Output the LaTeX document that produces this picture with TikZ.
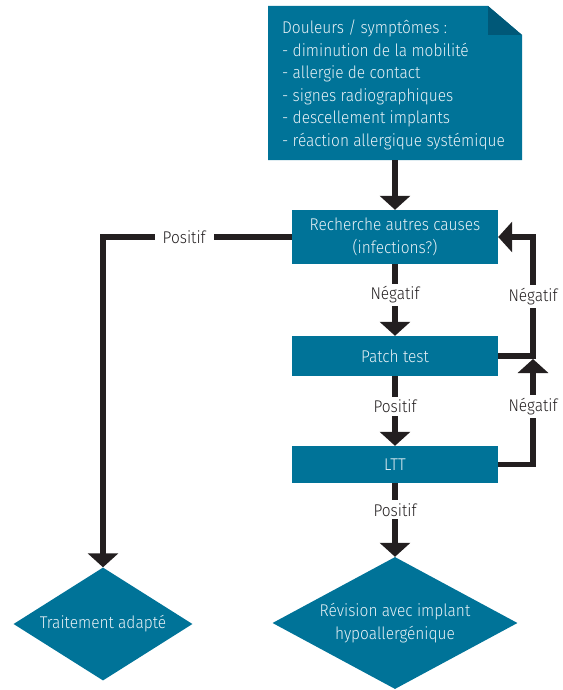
\documentclass[tikz,border=0pt]{standalone}
\usepackage{fontspec}
\setmainfont[FakeStretch=0.91]{Fira Sans Light}
\usetikzlibrary{arrows.meta, shapes.geometric}
\definecolor{boxblue}{RGB}{0,115,152}
\definecolor{folddark}{RGB}{0,88,120}
\definecolor{linegray}{RGB}{35,31,32}
\definecolor{boxtext}{RGB}{232,241,246}

\begin{document}
\begin{tikzpicture}[x=1pt, y=-1pt,
    font=\fontsize{17}{22.5}\selectfont,
    box/.style={fill=boxblue, text=boxtext, minimum width=206pt, align=center, inner sep=0pt},
    decision/.style={diamond, fill=boxblue, text=boxtext, align=center, inner sep=0pt},
    flow/.style={line width=5.5pt, draw=linegray, -{Triangle[width=30pt,length=14pt]}},
    lbl/.style={fill=white, text=linegray, inner xsep=8pt, inner ysep=3pt}]

    \useasboundingbox (0,0) rectangle (562,690);

    % symptom sheet with folded corner
    \fill[boxblue] (268,6) -- (488,6) -- (522,35) -- (522,160) -- (268,160) -- cycle;
    \fill[folddark] (488,6) -- (488,35) -- (522,35) -- cycle;
    \node[anchor=north west, text=boxtext, align=left, inner sep=0pt] (sympt) at (282,20)
        {Douleurs / symptômes :\\- diminution de la mobilité\\- allergie de contact\\- signes radiographiques\\- descellement implants\\- réaction allergique systémique};
    \coordinate (symptBottom) at (395,160);

    \node[box, minimum height=54pt] (causes) at (395,237) {Recherche autres causes\\(infections?)};
    \node[box, minimum height=40pt] (patch) at (395,356) {Patch test};
    \node[box, minimum height=37pt] (ltt) at (395,464.5) {LTT};
    \node[decision, minimum width=179pt, minimum height=113pt, aspect=1.58] (traitement) at (103,624) {Traitement adapté};
    \node[decision, minimum width=245pt, minimum height=132pt, aspect=1.86] (revision) at (395,623) {Révision avec implant\\hypoallergénique};

    \coordinate (leftCorner) at (103,237);
    \coordinate (loopTop) at (533,237);
    \coordinate (loopMid) at (533,356);
    \coordinate (loopTip) at (533,359);
    \coordinate (loopBot) at (533,464.5);

    \draw[flow] (symptBottom) -- (causes);
    \draw[flow] (causes) -- node[lbl, pos=0.43] {Négatif} (patch);
    \draw[flow] (patch) -- node[lbl, pos=0.43] {Positif} (ltt);
    \draw[flow] (ltt) -- node[lbl, pos=0.36] {Positif} (revision);

    \draw[flow] (patch.east) -- (loopMid) -- node[lbl, pos=0.5] {Négatif} (loopTop) -- (causes.east);
    \draw[flow] (ltt.east) -- (loopBot) -- node[lbl, pos=0.55] {Négatif} (loopTip);

    \draw[flow] (causes.west) -- node[lbl, pos=0.57] {Positif} (leftCorner) -- (traitement);
\end{tikzpicture}
\end{document}
